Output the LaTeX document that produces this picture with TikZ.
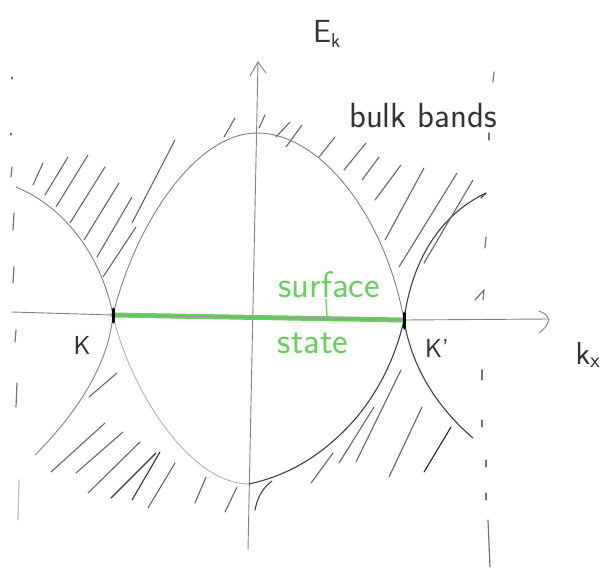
\documentclass[tikz,border=0pt]{standalone}
\usepackage{fontspec}
\definecolor{sgreen}{RGB}{105,205,95}
\begin{document}
\begin{tikzpicture}[x=1pt,y=-1pt,line cap=round,line join=round,
  ink/.style={draw=black!75,line width=1.1pt},
  faint/.style={draw=black!50,line width=0.9pt},
  pale/.style={draw=black!30,line width=0.9pt},
  hatch/.style={draw=black!60,line width=1.1pt},
  dashmark/.style={draw=black!55,line width=1.2pt},
  lbl/.style={text=black!80,font=\sffamily\fontsize{26}{30}\selectfont,inner sep=0pt},
  glbl/.style={text=sgreen,font=\sffamily\fontsize{37}{40}\selectfont,inner sep=0pt}]
\useasboundingbox (0,0) rectangle (605,571);

% key points
\coordinate (K) at (113,315);
\coordinate (Kp) at (404,320);
\coordinate (ytop) at (258,62);
\coordinate (ybot) at (248,550);
\coordinate (xl) at (12,312);
\coordinate (xr) at (548,319);
\coordinate (bot) at (249,484);
\coordinate (peak) at (257,133);

% axes
\draw[faint] (ybot) -- (ytop);
\draw[faint] (250,76) -- (ytop) -- (266,73);
\draw[faint] (xl) -- (K);
\draw[faint] (Kp) -- (xr);
\draw[faint] (539,311) .. controls (546,314) .. (549,320) .. controls (546,327) .. (539,333);

% bands
\draw[faint] (K) .. controls (135,225) and (195,133) .. (peak) .. controls (320,133) and (385,215) .. (Kp);
\draw[pale] (K) .. controls (130,390) and (190,484) .. (bot);
\draw[ink] (bot) .. controls (290,475) and (320,455) .. (345,430) .. controls (375,400) and (395,360) .. (Kp);
\draw[ink] (255,510) .. controls (258,495) and (264,487) .. (272,481);
\draw[faint] (16,187) .. controls (60,205) and (100,250) .. (K);
\draw[faint] (K) .. controls (108,370) and (70,420) .. (35,455);
\draw[ink] (Kp) .. controls (412,260) and (440,215) .. (486,193);
\draw[ink] (486,193) -- (481,198);
\draw[ink] (Kp) .. controls (412,370) and (440,410) .. (473,438);

% hatching upper left
\draw[hatch] (33,185) -- (43,163);
\draw[hatch] (45,195) -- (68,157);
\draw[hatch] (56,207) -- (88,155);
\draw[hatch] (70,223) -- (105,167);
\draw[hatch] (84,240) -- (119,183);
\draw[hatch] (97,257) -- (132,197);
\draw[hatch] (103,277) -- (136,227);
\draw[hatch] (132,223) -- (175,140);
\draw[hatch] (224,137) -- (235,118);
\draw[hatch] (259,128) -- (265,115);
% hatching upper right
\draw[hatch] (276,137) -- (290,122);
\draw[hatch] (286,147) -- (302,125);
\draw[hatch] (319,157) -- (335,137);
\draw[hatch] (344,170) -- (366,143);
\draw[hatch] (362,180) -- (379,157);
\draw[hatch] (375,200) -- (401,165);
\draw[hatch] (385,240) -- (424,168);
\draw[hatch] (399,267) -- (457,173);
\draw[hatch] (424,263) -- (473,180);
\draw[hatch] (475,300) -- (484,290);
% hatching lower left
\draw[hatch] (89,397) -- (117,373);
\draw[hatch] (51,472) -- (105,423);
\draw[hatch] (76,473) -- (123,432);
\draw[hatch] (88,493) -- (140,442);
\draw[hatch,black!80] (111,498) -- (156,453);
\draw[hatch,black!80] (132,500) -- (160,452);
\draw[hatch] (148,508) -- (175,463);
\draw[hatch] (195,503) -- (206,477);
\draw[hatch] (225,512) -- (237,487);
% hatching lower right
\draw[hatch] (311,483) -- (333,453);
\draw[hatch] (339,463) -- (374,407);
\draw[hatch] (356,462) -- (401,370);
\draw[hatch] (389,477) -- (422,407);
\draw[hatch,black!85] (424,472) -- (451,427);

% edge dashes left
\draw[dashmark] (12,77) -- (12,79);
\draw[dashmark] (11,133) -- (11,135);
\draw[dashmark] (12,167) -- (11,177);
\draw[dashmark] (14,213) -- (13,230);
\draw[dashmark] (14,267) -- (13,283);
\draw[dashmark] (16,330) -- (15,342);
\draw[dashmark] (17,383) -- (16,407);
\draw[dashmark,black!25] (19,480) -- (18,520);
% edge dashes right
\draw[dashmark] (494,72) -- (493,82);
\draw[dashmark] (489,133) -- (489,140);
\draw[dashmark] (486,237) -- (485,248);
\draw[dashmark] (484,290) -- (483,300);
\draw[dashmark] (482,370) -- (482,380);
\draw[dashmark] (482,420) -- (482,427);
\draw[dashmark] (486,460) -- (486,467);
\draw[dashmark] (486,493) -- (486,500);
\draw[dashmark] (488,520) -- (490,567);

% surface state
\draw[sgreen,line width=5pt] (K) -- (Kp);
\draw[black!40,line width=1pt] (K) -- (Kp);
\draw[sgreen,line width=1.3pt] (326,299) -- (327,316);
\draw[black,line width=3pt] (113,309) -- (113,322);
\draw[black,line width=3pt] (404,313) -- (404,328);

% labels
\node[lbl,font=\sffamily\fontsize{32}{34}\selectfont] (Ek) at (327,34) {E\textsubscript{\fontsize{20}{22}\selectfont k}};
\node[lbl,font=\sffamily\fontsize{32}{34}\selectfont] (kx) at (588,355) {k\textsubscript{\fontsize{22}{24}\selectfont x}};
\node[lbl,font=\sffamily\fontsize{35}{38}\selectfont] (bulk) at (423,115) {bulk bands};
\node[lbl] (Klab) at (82,345) {K};
\node[lbl] (Kplab) at (437,348) {K'};
\node[glbl] (surf) at (329,285) {surface};
\node[glbl] (stat) at (313,343) {state};
\end{tikzpicture}
\end{document}
